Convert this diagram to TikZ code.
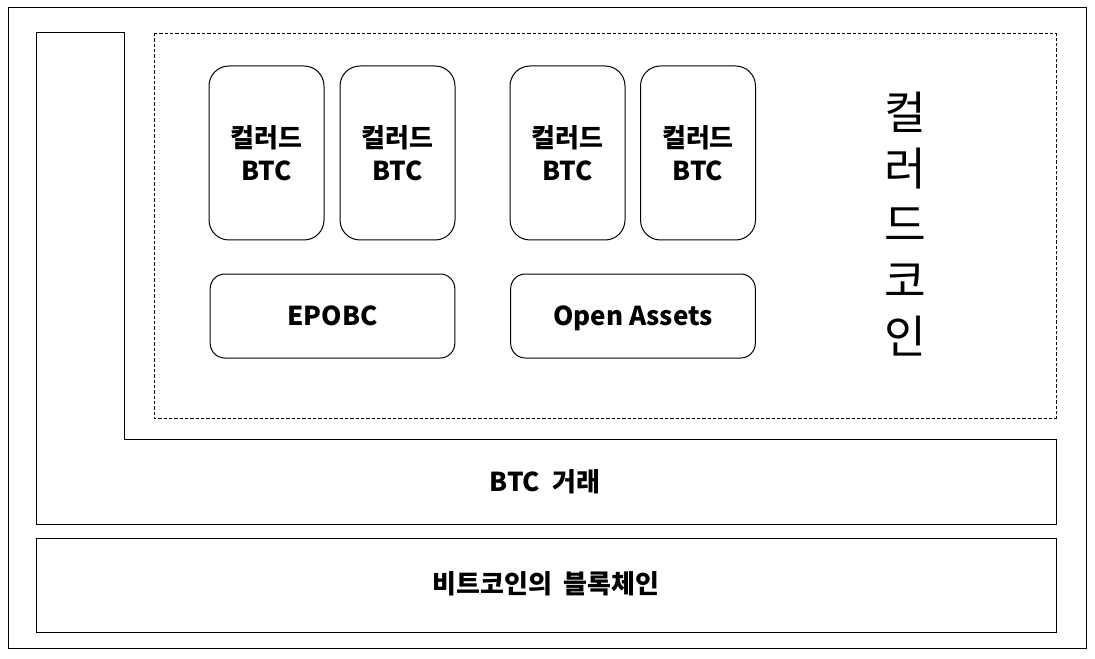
\documentclass[tikz,border=0pt]{standalone}
\usepackage{fontspec}
\newfontfamily\kr{Noto Sans CJK KR}
\tikzset{every picture/.style={x=0.75pt,y=-0.75pt,line width=0.75pt}}
\tikzset{boldtext/.style={font=\kr\bfseries\fontsize{19.5}{25}\selectfont}}
\tikzset{coinbox/.style={draw,boldtext,rounded corners=15pt,minimum width=86.25pt,minimum height=130.5pt,align=center}}
\tikzset{protobox/.style={draw,boldtext,rounded corners=11pt,minimum width=183.5pt,minimum height=63pt,text height=14pt,text depth=0pt}}
\tikzset{layer/.style={boldtext,text height=14pt,text depth=0pt}}

\begin{document}
\begin{tikzpicture}
\useasboundingbox (0,0) rectangle (1095,659);
\draw (8,8) rectangle (1086,648);
\draw (36,33) -- (124,33) -- (124,439) -- (1056,439) -- (1056,524) -- (36,524) -- cycle;
\draw [dash pattern=on 2.5pt off 1.5pt,line width=0.6pt] (154,33) rectangle (1056,418);
\draw (36,538) rectangle (1056,632);

\node [coinbox] (c1) at (266.5,153) {컬러드\\BTC};
\node [coinbox] (c2) at (397.5,153) {컬러드\\BTC};
\node [coinbox] (c3) at (567.5,153) {컬러드\\BTC};
\node [coinbox] (c4) at (698,153) {컬러드\\BTC};

\node [protobox] (epobc) at (332.5,316) {EPOBC};
\node [protobox] (oa) at (633,316) {Open Assets};

\node [align=center,font=\kr\fontsize{34}{42}\selectfont] (cc) at (905,224) {컬\\러\\드\\코\\인};

\node [layer] (tx) at (545,482) {BTC\ \ 거래};
\node [layer] (chain) at (546,584) {비트코인의\ \ 블록체인};
\end{tikzpicture}
\end{document}
